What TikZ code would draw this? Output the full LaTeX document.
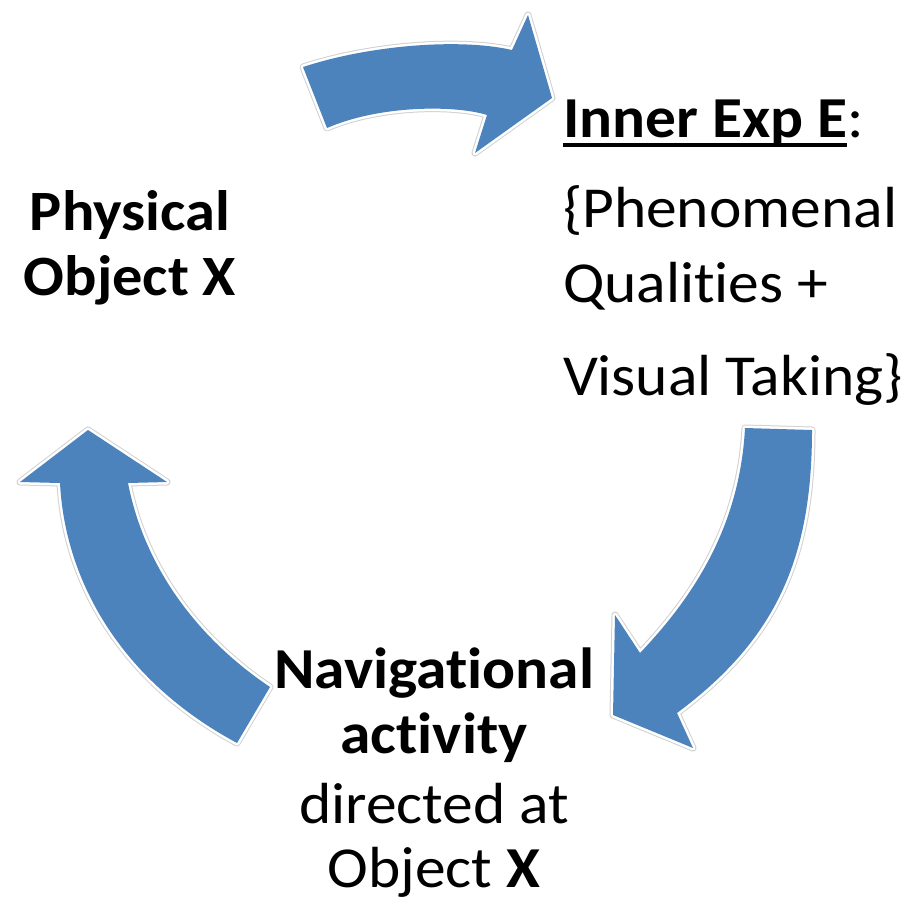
\documentclass[tikz,border=0pt]{standalone}
\usepackage{fontspec}
\setmainfont[Ligatures={NoCommon}]{Carlito}
\definecolor{arrowblue}{RGB}{76,131,189}
\newcommand{\widetxt}[1]{\scalebox{1.06}[1]{#1}}
\tikzset{
  bigarrow/.style={fill=arrowblue},
  arrowhalo/.style={draw=black!18, line width=7pt, line join=round},
  arrowrim/.style={draw=white, line width=5pt, line join=round},
  lbl/.style={inner sep=0pt, outer sep=0pt, font=\fontsize{58}{70}\selectfont},
  lblbold/.style={inner sep=0pt, outer sep=0pt, font=\bfseries\fontsize{58}{70}\selectfont},
  lblleft/.style={inner sep=0pt, outer sep=0pt, font=\bfseries\fontsize{57}{68}\selectfont}
}
\begin{document}
\begin{tikzpicture}[x=1pt, y=-1pt]
\useasboundingbox (0,0) rectangle (904,900);

% top arrow
\def\toparrow{(303,67) .. controls (370,45) and (460,38) .. (512,50) -- (528,15) -- (552,98) -- (475,153) -- (487,115) .. controls (455,105) and (380,105) .. (327,128) -- cycle}
% right arrow
\def\rightarrowpath{(745,428) -- (812,430) .. controls (812,560) and (775,640) .. (677,713) -- (693,748) -- (613,715) -- (615,615) -- (640,653) .. controls (700,590) and (740,520) .. (745,428) -- cycle}
% left arrow
\def\leftarrowpath{(88,430) -- (167,482) -- (128,483) .. controls (145,570) and (200,640) .. (270,687) -- (237,743) .. controls (120,680) and (65,580) .. (60,483) -- (20,482) -- cycle}

\foreach \p in {\toparrow,\rightarrowpath,\leftarrowpath}{
  \draw[arrowhalo] \p;
  \draw[arrowrim] \p;
  \fill[bigarrow] \p;
}

% left label
\node[lblleft, anchor=base] (phys1) at (130,230) {\widetxt{Physical}};
\node[lblleft, anchor=base] (phys2) at (130,295) {\widetxt{Object X}};

% right label
\node[lblbold, anchor=base west] (inner) at (563,137) {\widetxt{Inner Exp E}};
\node[lbl, anchor=base west] (colon) at (inner.base east) {\widetxt{:}};
\draw[line width=4pt] ([yshift=-8pt]inner.base west) -- ([yshift=-8pt]inner.base east);
\node[lbl, anchor=base west] (phen) at (563,227) {\widetxt{\{Phenomenal}};
\node[lbl, anchor=base west] (qual) at (563,302) {\widetxt{Qualities +}};
\node[lbl, anchor=base west] (vis) at (563,395) {\widetxt{Visual Taking\}}};

% bottom label
\node[lblbold, anchor=base] (nav1) at (434,688) {\widetxt{Navigational}};
\node[lblbold, anchor=base] (nav2) at (434,753) {\widetxt{activity}};
\node[lbl, anchor=base] (nav3) at (434,823) {\widetxt{directed at}};
\node[lbl, anchor=base] (nav4) at (434,887) {\widetxt{Object \textbf{X}}};
\end{tikzpicture}
\end{document}
